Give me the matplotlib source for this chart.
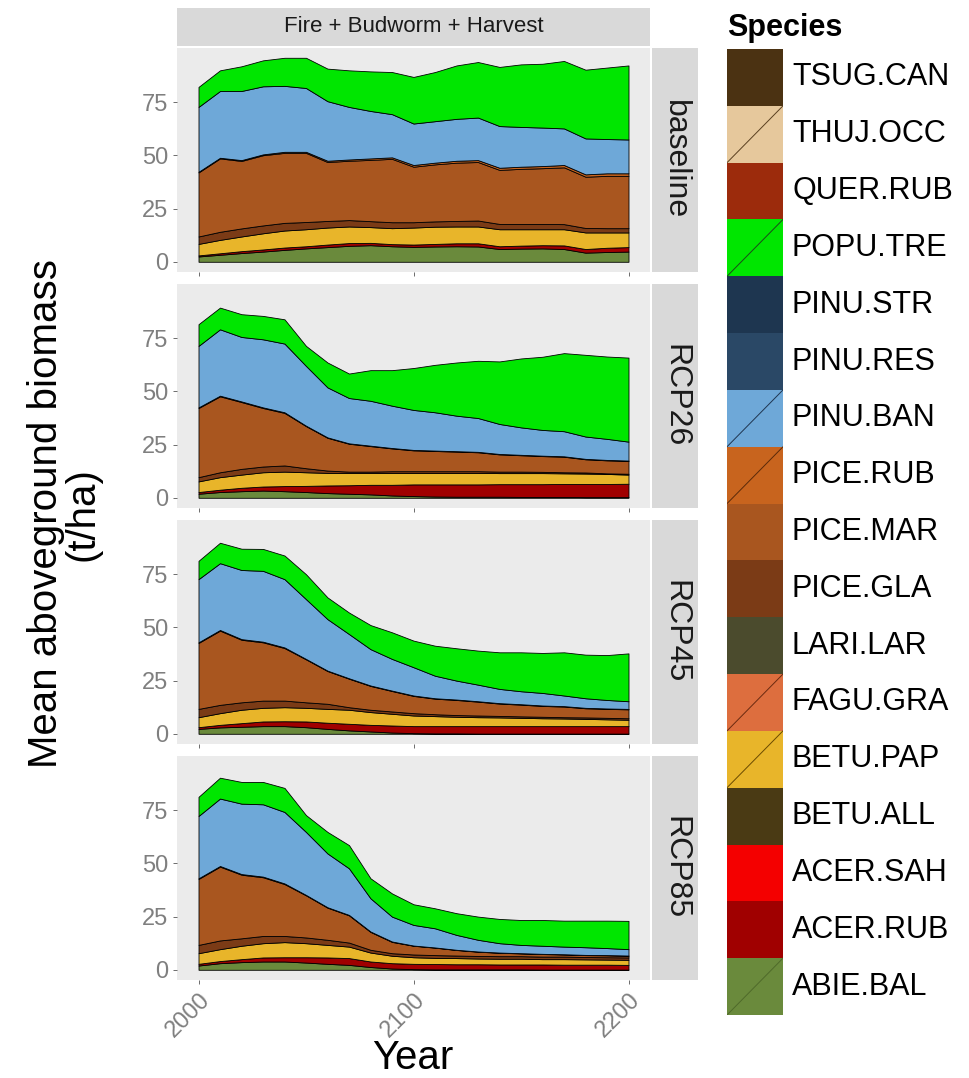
import numpy as np
import matplotlib
matplotlib.use("Agg")
import matplotlib.pyplot as plt

plt.rcParams['font.family'] = ['Liberation Sans', 'DejaVu Sans']

W, H = 969, 1078

years = [2000, 2010, 2020, 2030, 2040, 2050, 2060, 2070, 2080, 2090, 2100,
         2110, 2120, 2130, 2140, 2150, 2160, 2170, 2180, 2190, 2200]

# species in stacking order (bottom -> top)
species = ["ABIE.BAL", "ACER.RUB", "ACER.SAH", "BETU.ALL", "BETU.PAP", "FAGU.GRA",
           "LARI.LAR", "PICE.GLA", "PICE.MAR", "PICE.RUB", "PINU.BAN", "PINU.RES",
           "PINU.STR", "POPU.TRE", "QUER.RUB", "THUJ.OCC", "TSUG.CAN"]
colors = ["#6A8A3C", "#A00000", "#F40000", "#4A3A14", "#E8B52A", "#DD6E3E",
          "#4B4B2D", "#7B3B16", "#A9561F", "#C8641E", "#6EA8D8", "#2A4866",
          "#1E3650", "#00E600", "#9C2B0C", "#E6C89C", "#4B3212"]
# legend keys that carry a diagonal stroke
key_slash = {"THUJ.OCC": "#5a4020", "POPU.TRE": "#1a4a1a", "PINU.BAN": "#1f3550",
             "PICE.RUB": "#5a2a0a", "FAGU.GRA": "#6a2a10", "BETU.PAP": "#6a4a00",
             "ABIE.BAL": "#4f6a2a"}

scenarios = ["baseline", "RCP26", "RCP45", "RCP85"]

# mean aboveground biomass (t/ha) per species, scenario "baseline"
base_abie = [2.5, 3.3, 4.1, 4.8, 5.6, 6.3, 6.9, 7.5, 7.8, 7.3, 7.0, 7.2, 7.3, 7.2, 6.0, 6.2, 6.3, 6.0, 4.3, 4.6, 4.8]
base_acru = [0.5, 0.7, 0.9, 1.0, 1.1, 1.0, 1.2, 1.3, 1.1, 1.0, 1.1, 1.2, 1.4, 1.5, 1.3, 1.4, 1.5, 1.7, 1.7, 2.0, 2.1]
base_bepa = [5.4, 6.3, 6.9, 7.6, 8.0, 8.0, 8.0, 7.8, 7.4, 7.5, 8.0, 8.1, 7.9, 7.9, 8.0, 7.7, 7.5, 7.6, 7.8, 7.2, 6.9]
base_pigl = [3.5, 3.8, 3.8, 3.7, 3.6, 3.4, 3.1, 3.0, 2.8, 2.8, 2.5, 2.5, 2.6, 2.8, 2.5, 2.5, 2.5, 2.4, 2.1, 2.0, 2.0]
base_pima = [30.1, 34.5, 31.7, 33.0, 32.9, 32.5, 27.7, 27.9, 28.8, 29.8, 26.1, 26.8, 27.4, 27.5, 25.4, 25.9, 26.2, 26.7, 24.1, 24.6, 24.6]
base_piru = [0.3, 0.3, 0.4, 0.4, 0.5, 0.5, 0.6, 0.6, 0.7, 0.7, 0.8, 0.8, 0.9, 0.9, 1.0, 1.0, 1.0, 1.1, 1.1, 1.2, 1.2]
base_piba = [30.5, 31.4, 32.5, 32.0, 31.0, 30.0, 28.0, 24.7, 22.3, 20.3, 19.5, 19.5, 19.7, 20.0, 19.6, 18.7, 18.1, 17.2, 16.9, 16.1, 15.9]
base_potr = [9.4, 9.7, 11.6, 12.2, 13.2, 14.2, 15.3, 17.2, 18.6, 19.8, 21.9, 23.1, 25.1, 26.1, 27.8, 29.4, 30.0, 31.7, 32.3, 33.6, 34.8]

# scenario "RCP26"
rcp26_abie = [1.9, 2.7, 3.1, 3.4, 3.1, 2.7, 2.2, 1.9, 1.6, 1.1, 0.8, 0.6, 0.5, 0.5, 0.5, 0.4, 0.4, 0.4, 0.3, 0.3, 0.3]
rcp26_acru = [0.8, 1.1, 1.6, 1.9, 2.4, 2.9, 3.6, 4.0, 4.5, 5.0, 5.5, 5.7, 5.8, 5.8, 5.9, 6.0, 6.0, 6.1, 6.2, 6.2, 6.3]
rcp26_bepa = [5.0, 5.9, 6.2, 6.7, 6.8, 6.4, 5.9, 5.8, 5.6, 5.6, 5.4, 5.4, 5.4, 5.4, 5.2, 5.2, 5.2, 5.0, 4.9, 4.7, 4.3]
rcp26_pigl = [2.0, 2.3, 2.7, 2.7, 2.9, 1.9, 1.1, 0.6, 0.6, 0.8, 0.8, 0.8, 0.8, 0.8, 0.7, 0.7, 0.6, 0.5, 0.5, 0.3, 0.4]
rcp26_pima = [32.5, 35.7, 31.4, 27.5, 24.7, 19.8, 15.4, 13.1, 12.0, 10.7, 9.8, 9.5, 9.2, 8.9, 8.1, 7.7, 7.4, 7.3, 6.2, 6.1, 6.0]
rcp26_piru = [0.3, 0.3, 0.3, 0.3, 0.3, 0.2, 0.2, 0.2, 0.2, 0.2, 0.2, 0.2, 0.2, 0.2, 0.2, 0.2, 0.2, 0.2, 0.2, 0.2, 0.2]
rcp26_piba = [28.9, 31.2, 30.3, 32.0, 32.3, 28.1, 23.5, 21.3, 21.1, 19.9, 18.8, 18.0, 16.7, 15.9, 14.1, 12.9, 12.1, 11.8, 10.5, 9.9, 8.9]
rcp26_potr = [10.2, 10.2, 10.7, 11.0, 11.4, 9.4, 11.7, 11.5, 14.4, 16.7, 19.7, 22.3, 25.0, 26.9, 29.4, 32.4, 34.4, 36.7, 38.4, 38.7, 39.5]

# scenario "RCP45"
rcp45_abie = [2.3, 3.0, 3.3, 3.6, 3.6, 3.1, 2.3, 1.6, 1.1, 0.6, 0.3, 0.2, 0.2, 0.1, 0.1, 0.1, 0.1, 0.1, 0.1, 0.1, 0.1]
rcp45_acru = [0.8, 1.2, 1.7, 2.2, 2.3, 2.7, 2.9, 3.1, 3.1, 3.3, 3.3, 3.4, 3.4, 3.5, 3.5, 3.5, 3.5, 3.5, 3.5, 3.5, 3.5]
rcp45_bepa = [4.7, 5.5, 6.3, 6.4, 6.6, 6.4, 6.5, 6.6, 6.0, 5.5, 5.0, 4.7, 4.4, 4.2, 4.1, 3.9, 3.7, 3.6, 3.4, 3.2, 3.0]
rcp45_pigl = [3.9, 3.9, 3.5, 3.4, 3.1, 2.6, 2.4, 1.2, 1.1, 1.1, 1.1, 0.9, 0.8, 0.8, 0.7, 0.7, 0.7, 0.6, 0.7, 0.7, 0.7]
rcp45_pima = [31.0, 34.9, 29.4, 27.4, 24.7, 20.2, 15.4, 13.4, 11.2, 9.6, 8.1, 7.3, 7.1, 6.5, 5.8, 5.5, 5.1, 5.0, 4.3, 4.2, 4.2]
rcp45_piru = [0.3, 0.3, 0.3, 0.3, 0.3, 0.2, 0.2, 0.2, 0.2, 0.2, 0.2, 0.2, 0.2, 0.2, 0.2, 0.2, 0.2, 0.2, 0.2, 0.2, 0.2]
rcp45_piba = [29.7, 31.4, 32.5, 33.3, 32.1, 28.1, 24.2, 20.8, 17.1, 14.9, 13.3, 10.6, 8.9, 7.8, 6.7, 6.1, 5.9, 5.0, 4.5, 4.0, 3.6]
rcp45_potr = [8.6, 9.6, 10.0, 10.3, 11.1, 11.7, 10.2, 10.1, 11.3, 12.5, 12.5, 14.1, 15.2, 16.0, 17.2, 18.3, 18.8, 20.3, 20.5, 21.1, 22.5]

# scenario "RCP85"
rcp85_abie = [2.0, 3.1, 3.6, 3.9, 3.9, 3.4, 2.8, 2.3, 1.3, 0.6, 0.3, 0.2, 0.2, 0.2, 0.2, 0.2, 0.1, 0.1, 0.1, 0.1, 0.1]
rcp85_acru = [0.8, 1.0, 1.4, 1.9, 2.0, 2.5, 3.0, 3.2, 2.6, 2.5, 2.5, 2.5, 2.4, 2.4, 2.3, 2.3, 2.4, 2.3, 2.3, 2.3, 2.2]
rcp85_bepa = [5.0, 5.6, 6.3, 6.7, 7.1, 6.6, 5.9, 5.4, 4.2, 3.5, 3.1, 2.9, 2.9, 2.7, 2.7, 2.7, 2.5, 2.6, 2.5, 2.4, 2.4]
rcp85_pigl = [3.9, 4.1, 3.5, 3.4, 2.9, 2.7, 2.4, 1.9, 1.3, 1.2, 1.3, 1.3, 1.2, 1.2, 1.2, 1.2, 1.2, 1.2, 1.1, 1.1, 1.1]
rcp85_pima = [31.0, 34.7, 29.9, 27.6, 24.4, 19.8, 15.1, 12.8, 8.4, 5.3, 4.1, 3.5, 2.6, 2.0, 1.6, 1.3, 1.2, 1.0, 0.9, 0.9, 0.8]
rcp85_piru = [0.3, 0.3, 0.3, 0.3, 0.3, 0.2, 0.2, 0.2, 0.2, 0.2, 0.1, 0.1, 0.1, 0.1, 0.1, 0.1, 0.1, 0.1, 0.1, 0.1, 0.1]
rcp85_piba = [29.3, 31.7, 33.1, 34.0, 33.6, 29.6, 25.3, 21.9, 15.6, 11.7, 9.7, 9.0, 7.0, 5.5, 4.4, 3.9, 3.8, 3.6, 3.6, 3.3, 3.0]
rcp85_potr = [9.0, 9.8, 10.2, 10.5, 11.3, 7.9, 10.1, 10.9, 9.4, 10.9, 9.7, 9.4, 10.2, 10.9, 11.4, 11.7, 12.1, 12.2, 12.5, 12.9, 13.3]

# species with no biomass in any scenario are left out of the stacks
biomass = {
    "baseline": {"ABIE.BAL": base_abie, "ACER.RUB": base_acru, "BETU.PAP": base_bepa,
                 "PICE.GLA": base_pigl, "PICE.MAR": base_pima, "PICE.RUB": base_piru,
                 "PINU.BAN": base_piba, "POPU.TRE": base_potr},
    "RCP26": {"ABIE.BAL": rcp26_abie, "ACER.RUB": rcp26_acru, "BETU.PAP": rcp26_bepa,
              "PICE.GLA": rcp26_pigl, "PICE.MAR": rcp26_pima, "PICE.RUB": rcp26_piru,
              "PINU.BAN": rcp26_piba, "POPU.TRE": rcp26_potr},
    "RCP45": {"ABIE.BAL": rcp45_abie, "ACER.RUB": rcp45_acru, "BETU.PAP": rcp45_bepa,
              "PICE.GLA": rcp45_pigl, "PICE.MAR": rcp45_pima, "PICE.RUB": rcp45_piru,
              "PINU.BAN": rcp45_piba, "POPU.TRE": rcp45_potr},
    "RCP85": {"ABIE.BAL": rcp85_abie, "ACER.RUB": rcp85_acru, "BETU.PAP": rcp85_bepa,
              "PICE.GLA": rcp85_pigl, "PICE.MAR": rcp85_pima, "PICE.RUB": rcp85_piru,
              "PINU.BAN": rcp85_piba, "POPU.TRE": rcp85_potr},
}


def box(x0, y0, x1, y1):
    # pixel box (top-left origin) -> figure fraction rect
    return [x0 / W, 1 - y1 / H, (x1 - x0) / W, (y1 - y0) / H]


fig = plt.figure(figsize=(W / 100, H / 100), dpi=100)

panel_left, panel_right = 177, 650
panel_tops = [48, 284, 520, 756]
panel_h = 224
strip_col = "#D9D9D9"
panel_col = "#EBEBEB"
tick_col = "#7F7F7F"

# facet strip on top
ax_top = fig.add_axes(box(panel_left, 8, panel_right, 46))
ax_top.set_facecolor(strip_col)
ax_top.set_xticks([]); ax_top.set_yticks([])
for s in ax_top.spines.values():
    s.set_visible(False)
ax_top.text(0.5, 0.5, "Fire + Budworm + Harvest", ha="center", va="center",
            fontsize=16, color="#1A1A1A", transform=ax_top.transAxes)

for i, (scen, top) in enumerate(zip(scenarios, panel_tops)):
    ax = fig.add_axes(box(panel_left, top, panel_right, top + panel_h))
    ax.set_facecolor(panel_col)
    data = biomass[scen]
    names = [sp for sp in species if sp in data]
    ax.stackplot(years, *[data[sp] for sp in names],
                 colors=[colors[species.index(sp)] for sp in names],
                 edgecolor="black", linewidth=0.6)
    ax.set_xlim(1990, 2210)
    ax.set_ylim(-4.8, 100.5)
    ax.set_yticks([0, 25, 50, 75])
    ax.set_xticks([2000, 2100, 2200])
    ax.tick_params(axis="both", colors="#555555", labelcolor=tick_col,
                   labelsize=17, length=3, width=0.6)
    for s in ax.spines.values():
        s.set_visible(False)
    if i < 3:
        ax.set_xticklabels([])
    else:
        for lab in ax.get_xticklabels():
            lab.set_rotation(45)
            lab.set_ha("right")
            lab.set_va("top")
            lab.set_rotation_mode("anchor")

    # facet strip on the right
    ax_s = fig.add_axes(box(652, top, 698, top + panel_h))
    ax_s.set_facecolor(strip_col)
    ax_s.set_xticks([]); ax_s.set_yticks([])
    for s in ax_s.spines.values():
        s.set_visible(False)
    ax_s.text(0.5, 0.5, scen, rotation=-90, ha="center", va="center",
              fontsize=23, color="#1A1A1A", transform=ax_s.transAxes)

fig.text(413 / W, 1 - 1058 / H, "Year", ha="center", va="center", fontsize=29)
fig.text(64 / W, 1 - 514 / H, "Mean aboveground biomass\n(t/ha)", rotation=90,
         ha="center", va="center", multialignment="center", fontsize=29,
         linespacing=0.95)

# legend column
key_top, key_bot = 49, 1015
ax_leg = fig.add_axes(box(727, key_top, 783, key_bot))
ax_leg.bar([0.5] * len(species), [1] * len(species), bottom=np.arange(len(species)),
           width=1.0, color=colors, linewidth=0)
for k, sp in enumerate(species):
    if sp in key_slash:
        ax_leg.plot([0, 1], [k, k + 1], color=key_slash[sp], lw=0.7)
ax_leg.set_xlim(0, 1)
ax_leg.set_ylim(0, len(species))
ax_leg.axis("off")

key_h = (key_bot - key_top) / len(species)
for k, sp in enumerate(species):
    yc = key_bot - (k + 0.5) * key_h
    fig.text(792 / W, 1 - yc / H, sp, ha="left", va="center", fontsize=22)
fig.text(727 / W, 1 - 28 / H, "Species", ha="left", va="center", fontsize=22,
         fontweight="bold")

fig.savefig("out.png", dpi=100, facecolor="white")
